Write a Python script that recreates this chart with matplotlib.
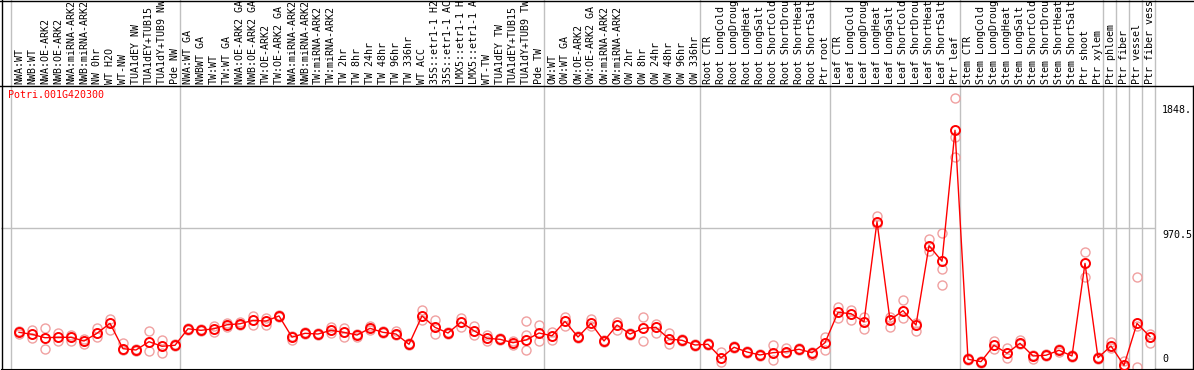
import numpy as np
import matplotlib
matplotlib.use('Agg')
import matplotlib.pyplot as plt
from matplotlib.lines import Line2D

# pixel-font look
plt.rcParams['font.family'] = 'DejaVu Sans Mono'
plt.rcParams['font.size'] = 7.2

gene = 'Potri.001G420300'

samples = [
    'NWA:WT', 'NWB:WT', 'NWA:OE-ARK2', 'NWB:OE-ARK2', 'NWA:miRNA-ARK2', 'NWB:miRNA-ARK2',
    'NW 0hr', 'WT H2O', 'WT-NW', 'TUA1dEY NW', 'TUA1dEY+TUB15', 'TUA1dY+TUB9 NW', 'Pde NW',
    'NWA:WT GA', 'NWBWT GA', 'TW:WT', 'TW:WT GA', 'NWA:OE-ARK2 GA', 'NWB:OE-ARK2 GA',
    'TW:OE-ARK2', 'TW:OE-ARK2 GA', 'NWA:miRNA-ARK2', 'NWB:miRNA-ARK2', 'TW:miRNA-ARK2',
    'TW:miRNA-ARK2', 'TW 2hr', 'TW 8hr', 'TW 24hr', 'TW 48hr', 'TW 96hr', 'TW 336hr', 'WT ACC',
    '35S::etr1-1 H2', '35S::etr1-1 AC', 'LMX5::etr1-1 H', 'LMX5::etr1-1 A', 'WT-TW',
    'TUA1dEY TW', 'TUA1dEY+TUB15', 'TUA1dY+TUB9 TW', 'Pde TW',
    'OW:WT', 'OW:WT GA', 'OW:OE-ARK2', 'OW:OE-ARK2 GA', 'OW:miRNA-ARK2', 'OW:miRNA-ARK2',
    'OW 2hr', 'OW 8hr', 'OW 24hr', 'OW 48hr', 'OW 96hr', 'OW 336hr',
    'Root CTR', 'Root LongCold', 'Root LongDroug', 'Root LongHeat', 'Root LongSalt',
    'Root ShortCold', 'Root ShortDrou', 'Root ShortHeat', 'Root ShortSalt', 'Ptr root',
    'Leaf CTR', 'Leaf LongCold', 'Leaf LongDroug', 'Leaf LongHeat', 'Leaf LongSalt',
    'Leaf ShortCold', 'Leaf ShortDrou', 'Leaf ShortHeat', 'Leaf ShortSalt', 'Ptr leaf',
    'Stem CTR', 'Stem LongCold', 'Stem LongDroug', 'Stem LongHeat', 'Stem LongSalt',
    'Stem ShortCold', 'Stem ShortDrou', 'Stem ShortHeat', 'Stem ShortSalt', 'Ptr shoot',
    'Ptr xylem', 'Ptr phloem', 'Ptr fiber', 'Ptr vessel', 'Ptr fiber vess',
]

# mean expression per sample
means = [
    240, 226, 202, 205, 205, 179, 233, 303, 125, 116, 174, 142, 149,
    265, 254, 265, 293, 300, 324, 319, 355, 206, 233, 228, 254, 240, 221, 268,
    240, 228, 156, 355, 275, 235, 312, 251, 198, 191, 167, 186, 235,
    216, 317, 207, 303, 179, 291, 228, 268, 275, 193, 184, 151,
    156, 60, 135, 102, 81, 97, 104, 121, 97, 167,
    380, 371, 314, 1016, 326, 392, 291, 848, 739, 1658,
    51, 34, 149, 93, 163, 74, 79, 114, 74, 724, 62,
    144, 8, 303, 209,
]

# individual replicates
rep_hi = [
    248, 256, 268, 237, 221, 191, 272, 336, 163, 122, 249, 186, 155,
    272, 260, 284, 307, 310, 355, 343, 362, 214, 240, 234, 279, 272, 228, 286,
    246, 251, 163, 397, 326, 242, 338, 284, 221, 198, 178, 317, 291,
    244, 350, 214, 331, 186, 315, 235, 350, 296, 237, 190, 158,
    162, 104, 142, 110, 88, 151, 128, 128, 104, 209,
    420, 397, 345, 1059, 345, 465, 307, 893, 939, 1883,
    58, 40, 179, 132, 186, 81, 86, 121, 80, 806, 68,
    170, 39, 626, 228,
]
rep_lo = [
    228, 198, 121, 179, 179, 156, 209, 256, 116, 112, 107, 93, 143,
    258, 248, 240, 279, 292, 293, 291, 348, 186, 226, 222, 233, 209, 207, 256,
    233, 221, 149, 326, 228, 228, 279, 221, 179, 184, 151, 116, 179,
    186, 284, 200, 284, 172, 256, 221, 179, 237, 156, 178, 144,
    150, 34, 128, 95, 74, 46, 97, 114, 81, 116,
    338, 326, 263, 1000, 279, 343, 251, 813, 687, 1609,
    44, 28, 121, 62, 156, 51, 72, 100, 68, 630, 55,
    128, 0, 0, 167,
]
rep_extra = [None] * 39 + [221] + [None] * 31 + [570, 1473] + [None] * 13 + [283, None]

# index of first sample in each block (last entry = end)
block_edges = [0, 13, 41, 53, 63, 73, 84, 85, 86, 87, 88]

y_marks = [0, 970.5, 1848]
y_mark_labels = ['0', '970.5', '1848.']

W, H = 1194, 370
GRAY = '#c0c0c0'
PALE = '#f0a0a0'


def draw_chart(output_path):
    fig = plt.figure(figsize=(W / 100, H / 100), dpi=100)

    # plot area: x 1..1155 px, y 86..369 px
    ax = fig.add_axes([1 / W, 1 / H, 1154 / W, 283 / H])
    ax.set_xlim((1 - 19) / 13, (1155 - 19) / 13)
    ax.set_ylim(-17.5, 1969)
    ax.set_xticks([])
    ax.set_yticks([])
    for s in ['left', 'right', 'top']:
        ax.spines[s].set_visible(False)
    ax.spines['bottom'].set_color('black')

    x = np.arange(len(samples))
    head = 86 / 283  # header height in axes units

    # block separators run through the header as well
    for e in block_edges:
        ax.axvline(e - 8 / 13, ymin=0, ymax=1 + 86 / 283, color=GRAY, lw=1, clip_on=False, zorder=1)
    ax.axhline(y_marks[1], color=GRAY, lw=1, zorder=1)

    # replicates
    for reps in (rep_hi, rep_lo, rep_extra):
        r = np.array(reps, dtype=float)
        ax.plot(x, r, ls='none', marker='o', ms=6.5, mfc='none', mec=PALE, mew=1.0, zorder=2)

    # means
    ax.plot(x, means, color='red', lw=1.0, marker='o', ms=6.5, mfc='none', mec='red',
            mew=1.4, zorder=3)

    # sample labels in header
    tr = ax.get_xaxis_transform()
    for xi, name in zip(x, samples):
        ax.text(xi, 1 + 2 / 283, name, rotation=90, ha='center', va='bottom',
                transform=tr, clip_on=False)

    # scale labels on the right
    ytr = ax.get_yaxis_transform()
    for v, lab in zip(y_marks, y_mark_labels):
        va = 'bottom' if v == 0 else 'top'
        off = 3 if v == 0 else -2
        ax.annotate(lab, xy=(1.0, v), xycoords=ytr, xytext=(7, off), textcoords='offset pixels',
                    ha='left', va=va)

    ax.text(7 / 1154, 1 - 4 / 283, gene, color='red', transform=ax.transAxes,
            ha='left', va='top')

    # frame lines
    fig.add_artist(Line2D([0, 1], [1 - 0.5 / H, 1 - 0.5 / H], color='black', lw=1))
    fig.add_artist(Line2D([0, 1], [1 - 86 / H, 1 - 86 / H], color='black', lw=1))
    fig.add_artist(Line2D([1.5 / W, 1.5 / W], [0, 1], color='black', lw=1))
    fig.add_artist(Line2D([1 - 1 / W, 1 - 1 / W], [0, 1 - 86 / H], color='black', lw=1))
    fig.add_artist(Line2D([1155 / W, 1], [1.5 / H, 1.5 / H], color='black', lw=1))

    fig.savefig(output_path, dpi=100)
    plt.close(fig)


if __name__ == '__main__':
    draw_chart('out.png')
